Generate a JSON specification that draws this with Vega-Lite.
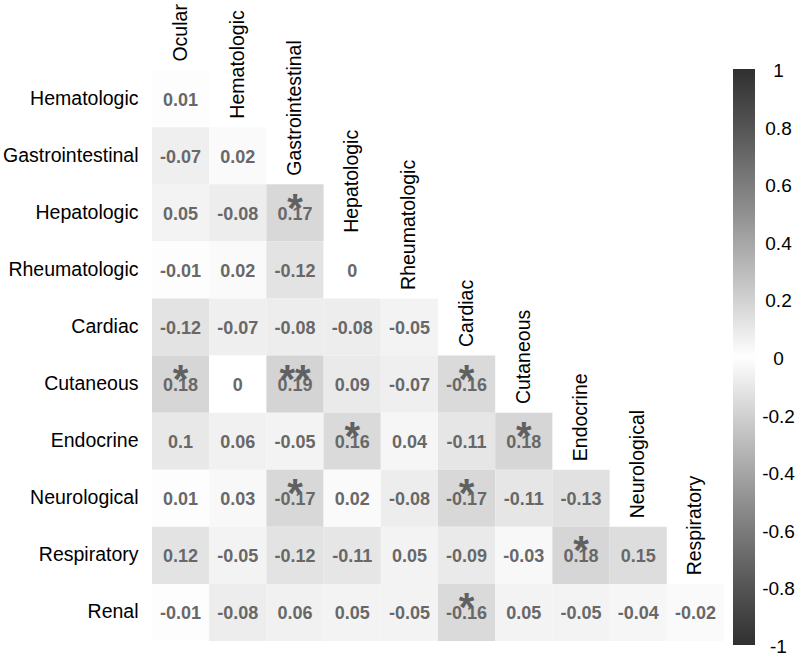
{
  "$schema": "https://vega.github.io/schema/vega-lite/v6.json",
  "width": 572,
  "height": 628,
  "autosize": {"type": "none"},
  "padding": {"left": 152, "top": 13, "right": 76, "bottom": 14},
  "background": "white",
  "config": {"view": {"stroke": null}, "font": "Liberation Sans"},
  "datasets": {
    "cells": [
      {"r": "Hematologic", "c": "Ocular", "v": 0.01, "s": ""},
      {"r": "Gastrointestinal", "c": "Ocular", "v": -0.07, "s": ""},
      {"r": "Gastrointestinal", "c": "Hematologic", "v": 0.02, "s": ""},
      {"r": "Hepatologic", "c": "Ocular", "v": 0.05, "s": ""},
      {"r": "Hepatologic", "c": "Hematologic", "v": -0.08, "s": ""},
      {"r": "Hepatologic", "c": "Gastrointestinal", "v": 0.17, "s": "*"},
      {"r": "Rheumatologic", "c": "Ocular", "v": -0.01, "s": ""},
      {"r": "Rheumatologic", "c": "Hematologic", "v": 0.02, "s": ""},
      {"r": "Rheumatologic", "c": "Gastrointestinal", "v": -0.12, "s": ""},
      {"r": "Rheumatologic", "c": "Hepatologic", "v": 0, "s": ""},
      {"r": "Cardiac", "c": "Ocular", "v": -0.12, "s": ""},
      {"r": "Cardiac", "c": "Hematologic", "v": -0.07, "s": ""},
      {"r": "Cardiac", "c": "Gastrointestinal", "v": -0.08, "s": ""},
      {"r": "Cardiac", "c": "Hepatologic", "v": -0.08, "s": ""},
      {"r": "Cardiac", "c": "Rheumatologic", "v": -0.05, "s": ""},
      {"r": "Cutaneous", "c": "Ocular", "v": 0.18, "s": "*"},
      {"r": "Cutaneous", "c": "Hematologic", "v": 0, "s": ""},
      {"r": "Cutaneous", "c": "Gastrointestinal", "v": 0.19, "s": "**"},
      {"r": "Cutaneous", "c": "Hepatologic", "v": 0.09, "s": ""},
      {"r": "Cutaneous", "c": "Rheumatologic", "v": -0.07, "s": ""},
      {"r": "Cutaneous", "c": "Cardiac", "v": -0.16, "s": "*"},
      {"r": "Endocrine", "c": "Ocular", "v": 0.1, "s": ""},
      {"r": "Endocrine", "c": "Hematologic", "v": 0.06, "s": ""},
      {"r": "Endocrine", "c": "Gastrointestinal", "v": -0.05, "s": ""},
      {"r": "Endocrine", "c": "Hepatologic", "v": 0.16, "s": "*"},
      {"r": "Endocrine", "c": "Rheumatologic", "v": 0.04, "s": ""},
      {"r": "Endocrine", "c": "Cardiac", "v": -0.11, "s": ""},
      {"r": "Endocrine", "c": "Cutaneous", "v": 0.18, "s": "*"},
      {"r": "Neurological", "c": "Ocular", "v": 0.01, "s": ""},
      {"r": "Neurological", "c": "Hematologic", "v": 0.03, "s": ""},
      {"r": "Neurological", "c": "Gastrointestinal", "v": -0.17, "s": "*"},
      {"r": "Neurological", "c": "Hepatologic", "v": 0.02, "s": ""},
      {"r": "Neurological", "c": "Rheumatologic", "v": -0.08, "s": ""},
      {"r": "Neurological", "c": "Cardiac", "v": -0.17, "s": "*"},
      {"r": "Neurological", "c": "Cutaneous", "v": -0.11, "s": ""},
      {"r": "Neurological", "c": "Endocrine", "v": -0.13, "s": ""},
      {"r": "Respiratory", "c": "Ocular", "v": 0.12, "s": ""},
      {"r": "Respiratory", "c": "Hematologic", "v": -0.05, "s": ""},
      {"r": "Respiratory", "c": "Gastrointestinal", "v": -0.12, "s": ""},
      {"r": "Respiratory", "c": "Hepatologic", "v": -0.11, "s": ""},
      {"r": "Respiratory", "c": "Rheumatologic", "v": 0.05, "s": ""},
      {"r": "Respiratory", "c": "Cardiac", "v": -0.09, "s": ""},
      {"r": "Respiratory", "c": "Cutaneous", "v": -0.03, "s": ""},
      {"r": "Respiratory", "c": "Endocrine", "v": 0.18, "s": "*"},
      {"r": "Respiratory", "c": "Neurological", "v": 0.15, "s": ""},
      {"r": "Renal", "c": "Ocular", "v": -0.01, "s": ""},
      {"r": "Renal", "c": "Hematologic", "v": -0.08, "s": ""},
      {"r": "Renal", "c": "Gastrointestinal", "v": 0.06, "s": ""},
      {"r": "Renal", "c": "Hepatologic", "v": 0.05, "s": ""},
      {"r": "Renal", "c": "Rheumatologic", "v": -0.05, "s": ""},
      {"r": "Renal", "c": "Cardiac", "v": -0.16, "s": "*"},
      {"r": "Renal", "c": "Cutaneous", "v": 0.05, "s": ""},
      {"r": "Renal", "c": "Endocrine", "v": -0.05, "s": ""},
      {"r": "Renal", "c": "Neurological", "v": -0.04, "s": ""},
      {"r": "Renal", "c": "Respiratory", "v": -0.02, "s": ""}
    ],
    "cols": [
      {"c": "Ocular", "r": "hdr"},
      {"c": "Hematologic", "r": "Hematologic"},
      {"c": "Gastrointestinal", "r": "Gastrointestinal"},
      {"c": "Hepatologic", "r": "Hepatologic"},
      {"c": "Rheumatologic", "r": "Rheumatologic"},
      {"c": "Cardiac", "r": "Cardiac"},
      {"c": "Cutaneous", "r": "Cutaneous"},
      {"c": "Endocrine", "r": "Endocrine"},
      {"c": "Neurological", "r": "Neurological"},
      {"c": "Respiratory", "r": "Respiratory"}
    ]
  },
  "encoding": {
    "x": {
      "field": "c", "type": "nominal",
      "scale": {"domain": ["Ocular", "Hematologic", "Gastrointestinal", "Hepatologic", "Rheumatologic", "Cardiac", "Cutaneous", "Endocrine", "Neurological", "Respiratory"], "paddingInner": 0, "paddingOuter": 0},
      "axis": null
    },
    "y": {
      "field": "r", "type": "nominal",
      "scale": {"domain": ["hdr", "Hematologic", "Gastrointestinal", "Hepatologic", "Rheumatologic", "Cardiac", "Cutaneous", "Endocrine", "Neurological", "Respiratory", "Renal"], "paddingInner": 0, "paddingOuter": 0},
      "axis": {"title": null, "ticks": false, "domain": false, "labelFontSize": 19.5, "labelColor": "black", "labelPadding": 14, "labelExpr": "datum.value == 'hdr' ? '' : datum.value"}
    }
  },
  "layer": [
    {
      "data": {"name": "cells"},
      "mark": {"type": "rect"},
      "encoding": {
        "color": {
          "field": "v", "type": "quantitative",
          "scale": {"domain": [-1, 0, 1], "range": ["#303030", "#ffffff", "#303030"]},
          "legend": {
            "title": null, "orient": "none", "legendX": 581, "legendY": 56,
            "direction": "vertical", "gradientLength": 576, "gradientThickness": 22,
            "gradientStrokeWidth": 0, "values": [-1, -0.8, -0.6, -0.4, -0.2, 0, 0.2, 0.4, 0.6, 0.8, 1],
            "labelFontSize": 19, "labelColor": "black", "labelOffset": 23.5,
            "labelOverlap": false, "labelExpr": "toString(datum.value)",
            "encode": {"labels": {"update": {"align": {"value": "center"}, "baseline": {"value": "middle"}, "dy": {"value": 2}}}}
          }
        }
      }
    },
    {
      "data": {"name": "cells"},
      "mark": {"type": "text", "fontSize": 18, "fontWeight": "bold", "color": "#686868", "baseline": "middle", "yOffset": 2},
      "encoding": {"text": {"field": "v", "type": "nominal"}}
    },
    {
      "data": {"name": "cells"},
      "transform": [{"filter": "datum.s != ''"}],
      "mark": {"type": "text", "fontSize": 40, "fontWeight": "bold", "color": "#606060", "baseline": "alphabetic", "yOffset": 9},
      "encoding": {"text": {"field": "s", "type": "nominal"}}
    },
    {
      "data": {"name": "cols"},
      "mark": {"type": "text", "fontSize": 19.5, "color": "black", "angle": 270, "align": "left", "baseline": "middle", "yOffset": 20},
      "encoding": {"text": {"field": "c", "type": "nominal"}}
    }
  ]
}
